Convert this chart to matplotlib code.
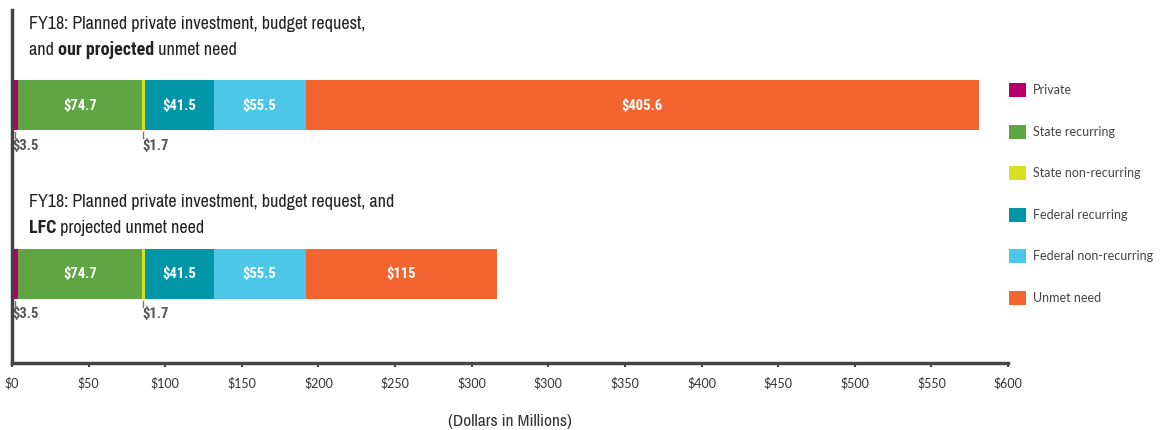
import numpy as np
import matplotlib
matplotlib.use("Agg")
import matplotlib.pyplot as plt
from matplotlib.patches import Patch

# data
segments = ["Private", "State recurring", "State non-recurring",
            "Federal recurring", "Federal non-recurring", "Unmet need"]
colors = ["#B3006E", "#5FA544", "#D7E021", "#0096A8", "#4CC7E7", "#F26531"]
ours = [3.5, 74.7, 1.7, 41.5, 55.5, 405.6]
lfc = [3.5, 74.7, 1.7, 41.5, 55.5, 115]
inside_labels = [None, "$74.7", None, "$41.5", "$55.5", None]
ours_last = "$405.6"
lfc_last = "$115"
small_labels = {0: "$3.5", 2: "$1.7"}
tick_labels = ["$0", "$50", "$100", "$150", "$200", "$250", "$300", "$300",
               "$350", "$400", "$450", "$500", "$550", "$600"]

NARROW = ["Archivo Narrow", "DejaVu Sans"]
NARROW_BOLD = ["Roboto Condensed", "Fira Sans Condensed", "IBM Plex Sans Condensed",
               "Encode Sans Condensed", "Archivo Narrow", "DejaVu Sans"]
PLAIN = ["Lato", "DejaVu Sans"]
GRAY = "#444444"

fig = plt.figure(figsize=(11.61, 4.30), dpi=100)
ax = fig.add_axes([12 / 1161, 1 - 363 / 430, (1008 - 12) / 1161, (363 - 10) / 430])
ax.set_xlim(0, 600)
ax.set_ylim(363, 10)  # y in pixel-like units, top down

bar_y = [105, 273.5]
bar_h = 50


def draw_bar(vals, y, last_label):
    left = 0
    for i, v in enumerate(vals):
        ax.barh(y, v, left=left, height=bar_h, color=colors[i], edgecolor="none")
        lab = inside_labels[i] if i < len(vals) - 1 else last_label
        if lab:
            ax.text(left + v / 2, y + 1, lab, ha="center", va="center",
                    color="white", fontsize=10.5, fontweight="bold",
                    family=NARROW_BOLD)
        if i in small_labels:
            xc = left + v / 2
            ax.plot([xc, xc], [y + bar_h / 2 + 2, y + bar_h / 2 + 8],
                    color="#777777", lw=1)
            ax.text(left + 0.3, y + bar_h / 2 + 16, small_labels[i], ha="left",
                    va="center", color="#555555", fontsize=10.5, fontweight="bold",
                    family=NARROW_BOLD)
        left += v


draw_bar(ours, bar_y[0], ours_last)
draw_bar(lfc, bar_y[1], lfc_last)


def rich_line(x, y, parts, size=13):
    # parts: list of (text, bold) drawn one after another
    r = fig.canvas.get_renderer()
    for s, bold in parts:
        t = fig.text(x, y, s, fontsize=size, color="#222222",
                     family=NARROW_BOLD if bold else NARROW,
                     fontweight="bold" if bold else "normal", va="baseline")
        bb = t.get_window_extent(renderer=r)
        x += bb.width / fig.bbox.width


tx = 29 / 1161
rich_line(tx, 1 - 29 / 430, [("FY18: Planned private investment, budget request,", False)])
rich_line(tx, 1 - 55 / 430, [("and ", False), ("our projected", True), (" unmet need", False)])
rich_line(tx, 1 - 207 / 430, [("FY18: Planned private investment, budget request, and", False)])
rich_line(tx, 1 - 233 / 430, [("LFC", True), (" projected unmet need", False)])

for s in ["top", "right"]:
    ax.spines[s].set_visible(False)
for s in ["left", "bottom"]:
    ax.spines[s].set_color(GRAY)
    ax.spines[s].set_linewidth(2.5)
ax.set_yticks([])
ax.set_xticks(np.linspace(0, 600, len(tick_labels)))
ax.set_xticklabels(tick_labels, fontsize=9, color="#333333", family=PLAIN)
ax.tick_params(axis="x", length=3, width=1.5, color=GRAY, pad=7)
ax.set_xlabel("(Dollars in Millions)", fontsize=12.5, family=NARROW,
              color="#333333", labelpad=18)

handles = [Patch(facecolor=c, edgecolor="none") for c in colors]
leg = fig.legend(handles, segments, loc="upper left",
                 bbox_to_anchor=(1004 / 1161, 1 - 78 / 430), frameon=False,
                 prop={"family": PLAIN, "size": 9}, labelspacing=2.2,
                 handlelength=1.35, handleheight=1.35, handletextpad=0.55,
                 borderaxespad=0)
for t in leg.get_texts():
    t.set_color("#444444")

fig.savefig("out.png", dpi=100)
